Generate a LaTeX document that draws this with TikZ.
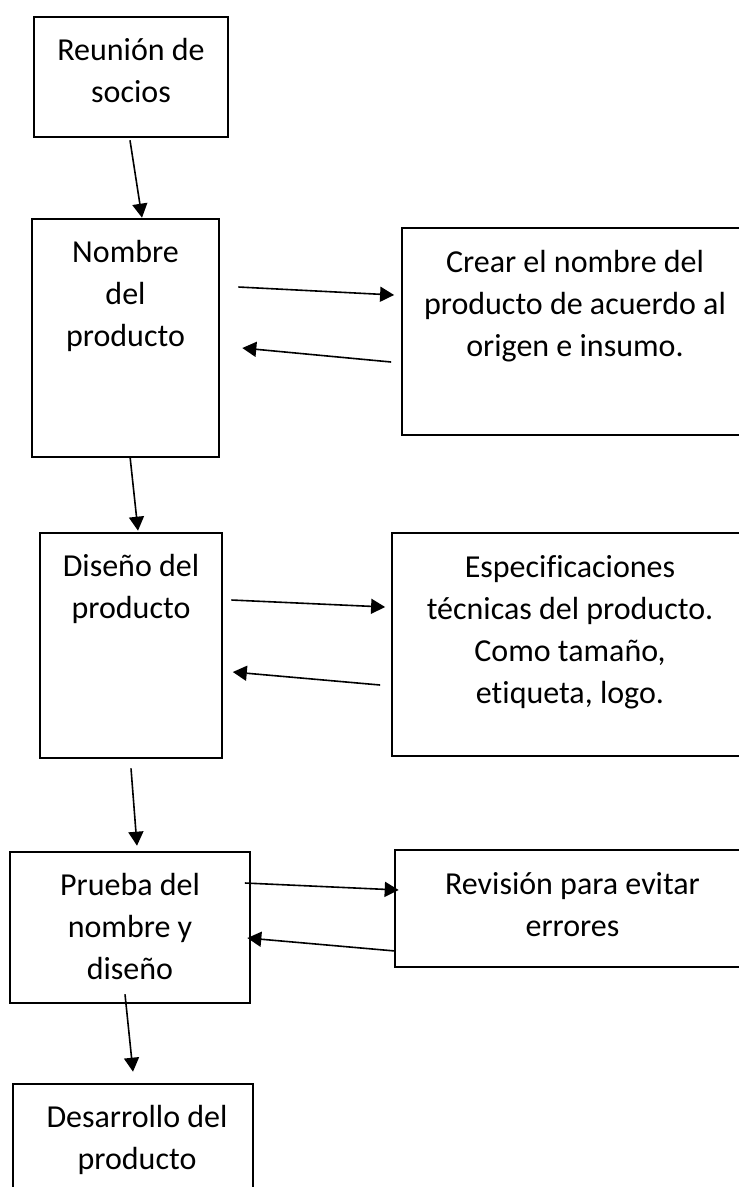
\documentclass[tikz,border=0pt]{standalone}
\usepackage{fontspec}
\setmainfont{Carlito}[Ligatures=NoCommon]
\usetikzlibrary{arrows.meta}

\begin{document}
\begin{tikzpicture}[x=1pt,y=-1pt,
  caja/.style={rectangle,draw,line width=2.6pt,inner sep=0pt},
  nota/.style={rectangle,draw,line width=1.8pt,inner sep=0pt},
  texto/.style={font=\fontsize{32}{42}\selectfont,align=flush center,inner sep=0pt,anchor=base,yshift=-45pt},
  flecha/.style={line width=1.6pt,-{Triangle[length=14pt,width=15pt]}}]

  \clip (0,0) rectangle (739,1187);

  \node[caja,minimum width=194pt,minimum height=120pt,
    label={[texto,text width=194pt]north:{Reunión de\\socios}}] (reunion) at (131,77) {};
  \node[caja,minimum width=187pt,minimum height=238pt,
    label={[texto,text width=187pt]north:{Nombre\\del\\producto}}] (nombre) at (125.5,338) {};
  \node[nota,minimum width=346pt,minimum height=207pt,
    label={[texto,text width=346pt]north:{Crear el nombre del\\producto de acuerdo al\\origen e insumo.}}] (crear) at (575,331.5) {};
  \node[caja,minimum width=182pt,minimum height=225pt,
    label={[texto,text width=182pt]north:{Diseño del\\producto}}] (diseno) at (131,645.5) {};
  \node[nota,minimum width=356pt,minimum height=223pt,
    label={[texto,text width=356pt]north:{Especificaciones\\técnicas del producto.\\Como tamaño,\\etiqueta, logo.}}] (espec) at (570,644.5) {};
  \node[caja,minimum width=240pt,minimum height=151pt,
    label={[texto,text width=240pt]north:{Prueba del\\nombre y\\diseño}}] (prueba) at (130,927.5) {};
  \node[nota,minimum width=355pt,minimum height=117pt,
    label={[texto,text width=355pt]north:{Revisión para evitar\\errores}}] (revision) at (572.5,908.5) {};
  \node[caja,minimum width=240pt,minimum height=126pt,
    label={[texto,text width=240pt,xshift=4pt]north:{Desarrollo del\\producto}}] (desarrollo) at (133,1147) {};

  \path[flecha]
   ([shift={(-1,2)}]reunion.south) edge ([shift={(16.5,0)}]nombre.north)
   ([shift={(18,-51)}]nombre.east) edge ([shift={(-7,-36.5)}]crear.west)
   ([shift={(-10,30.5)}]crear.west) edge ([shift={(22,10)}]nombre.east)
   ([shift={(4.5,-2)}]nombre.south) edge ([shift={(7,-1)}]diseno.north)
   ([shift={(8,-45.5)}]diseno.east) edge ([shift={(-6,-37.5)}]espec.west)
   ([shift={(-11,40.5)}]espec.west) edge ([shift={(9.5,26.5)}]diseno.east)
   ([shift={(0,9)}]diseno.south) edge ([shift={(7,-5)}]prueba.north)
   ([shift={(-6.4,-44.5)}]prueba.east) edge ([shift={(4.6,-18.5)}]revision.west)
   ([shift={(1,42.5)}]revision.west) edge ([shift={(-4,10.5)}]prueba.east)
   ([shift={(-5,-10)}]prueba.south) edge ([shift={(0,-11)}]desarrollo.north);
\end{tikzpicture}
\end{document}
